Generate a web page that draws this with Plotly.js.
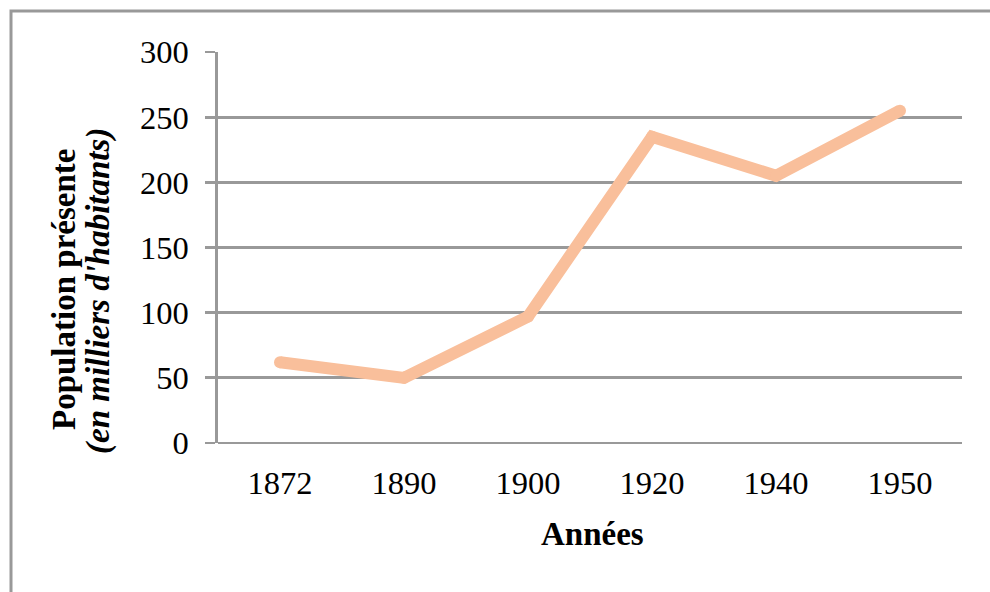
<!DOCTYPE html>
<html>
<head>
<meta charset="utf-8">
<script src="https://cdn.plot.ly/plotly-3.0.1.min.js"></script>
<style>html,body{margin:0;padding:0;background:#fff;}#chart{width:990px;height:592px;}</style>
</head>
<body>
<div id="chart"></div>
<script>
var years = ["1872", "1890", "1900", "1920", "1940", "1950"];
var population = [62, 50, 97, 235, 205, 255];
var yTicks = [0, 50, 100, 150, 200, 250, 300];

var L = 218, R = 962, T = 52, B = 443, W = 990, H = 592;
var pw = R - L, ph = B - T;
function px(x) { return (x - L) / pw; }
function py(y) { return (B - y) / ph; }

var grey = "#999999";
var font = "Liberation Serif, Times New Roman, serif";
var tickSize = 32.5, titleSize = 33;

var trace = {
  x: years,
  y: population,
  type: "scatter",
  mode: "lines+markers",
  line: { color: "#F9BF9B", width: 12 },
  marker: { color: "#F9BF9B", size: 12, line: { width: 0 } },
  hoverinfo: "x+y",
  showlegend: false
};

var layout = {
  width: W, height: H,
  margin: { l: L, r: W - R, t: T, b: H - B, pad: 0 },
  paper_bgcolor: "#fff",
  plot_bgcolor: "#fff",
  font: { family: font, size: tickSize, color: "#000" },
  showlegend: false,
  xaxis: {
    type: "category",
    range: [-0.5, 5.5],
    showgrid: false,
    zeroline: false,
    showline: false,
    ticks: "",
    tickfont: { family: font, size: tickSize, color: "#000" },
    ticklabelstandoff: 17,
    fixedrange: true
  },
  yaxis: {
    range: [0, 300],
    tickvals: yTicks,
    ticktext: yTicks.map(String),
    showgrid: true,
    gridcolor: grey,
    gridwidth: 2.7,
    zeroline: true,
    zerolinecolor: grey,
    zerolinewidth: 2.7,
    showline: true,
    linecolor: grey,
    linewidth: 2.7,
    ticks: "outside",
    ticklen: 10,
    tickwidth: 2.7,
    tickcolor: grey,
    tickfont: { family: font, size: tickSize, color: "#000" },
    ticklabelstandoff: 10,
    fixedrange: true
  },
  shapes: [
    {
      type: "rect", xref: "paper", yref: "paper",
      x0: px(11), x1: px(1010), y0: py(620), y1: py(11),
      line: { color: grey, width: 3 }, fillcolor: "rgba(0,0,0,0)", layer: "below"
    }
  ],
  annotations: [
    {
      text: "<b>Années</b>", xref: "paper", yref: "paper",
      x: px(592), y: py(534), xanchor: "center", yanchor: "middle",
      showarrow: false, font: { family: font, size: titleSize, color: "#000" }
    },
    {
      text: "<b>Population présente</b>", xref: "paper", yref: "paper",
      x: px(64), y: py(290), xanchor: "center", yanchor: "middle",
      textangle: -90, showarrow: false, font: { family: font, size: titleSize, color: "#000" }
    },
    {
      text: "<b><i>(en milliers d'habitants)</i></b>", xref: "paper", yref: "paper",
      x: px(98), y: py(291), xanchor: "center", yanchor: "middle",
      textangle: -90, showarrow: false, font: { family: font, size: titleSize, color: "#000" }
    }
  ]
};

Plotly.newPlot("chart", [trace], layout, { displayModeBar: false, staticPlot: true });
</script>
</body>
</html>
